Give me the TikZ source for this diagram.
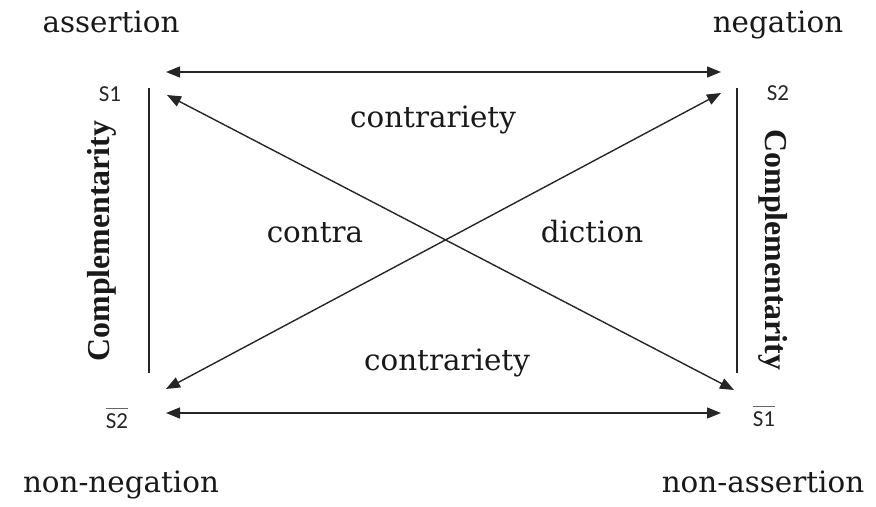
\documentclass[tikz,border=0pt]{standalone}
\usepackage{fontspec}
\setmainfont{DejaVu Serif}
\newfontfamily\timesf{Liberation Serif}
\newfontfamily\calf{Carlito}
\usetikzlibrary{arrows.meta}
\begin{document}
\begin{tikzpicture}[x=1bp,y=-1bp,
  lab/.style={font=\fontsize{29.5}{32}\selectfont, inner sep=0pt, anchor=base, text=black!90},
  slab/.style={font=\calf\fontsize{23}{25}\selectfont, inner sep=0pt, text=black!85},
  comp/.style={font=\timesf\bfseries\fontsize{32}{34}\selectfont, inner sep=0pt, text=black!90},
  conn/.style={line width=1.4bp, black!85, {Triangle[length=14bp,width=11bp]}-{Triangle[length=14bp,width=11bp]}},
  side/.style={line width=1.4bp, black!85},
  bar/.style={line width=1.4bp, black!60}]
\useasboundingbox (0,0) rectangle (876,507);
% corner labels
\node[lab] (assert) at (111,33) {assertion};
\node[lab] (neg) at (778,33) {negation};
\node[lab] (nneg) at (121,492) {non-negation};
\node[lab] (nass) at (763,492) {non-assertion};
% relation labels
\node[lab] (ctop) at (433,128) {contrariety};
\node[lab] (cbot) at (447,370) {contrariety};
\node[lab] (contra) at (315,243) {contra};
\node[lab] (diction) at (592,243) {diction};
% S labels
\node[slab] (s1) at (110,94) {S1};
\node[slab] (s2) at (778,93) {S2};
\node[slab] (s2b) at (117,421) {S2};
\node[slab] (s1b) at (764,419) {S1};
\draw[bar] ([yshift=5bp]s2b.north west) -- ([yshift=5bp]s2b.north east);
\draw[bar] ([yshift=5bp]s1b.north west) -- ([yshift=5bp]s1b.north east);
% complementarity
\node[comp, rotate=90] (compl) at (102,241) {Complementarity};
\node[comp, rotate=-90] (compr) at (773,250) {Complementarity};
% arrow ends
\coordinate (tl) at (166,72);
\coordinate (tr) at (721,72);
\coordinate (bl) at (166,413);
\coordinate (br) at (721,413);
\coordinate (dtl) at (167,95);
\coordinate (dtr) at (721,93);
\coordinate (dbl) at (166,389);
\coordinate (dbr) at (734,390);
\draw[conn] (tl) -- (tr);
\draw[conn] (bl) -- (br);
\draw[conn] (dtl) -- (dbr);
\draw[conn] (dbl) -- (dtr);
% vertical lines
\coordinate (lt) at (149,88);
\coordinate (lb) at (149,373);
\coordinate (rt) at (737,88);
\coordinate (rb) at (737,373);
\draw[side] (lt) -- (lb);
\draw[side] (rt) -- (rb);
\end{tikzpicture}
\end{document}
